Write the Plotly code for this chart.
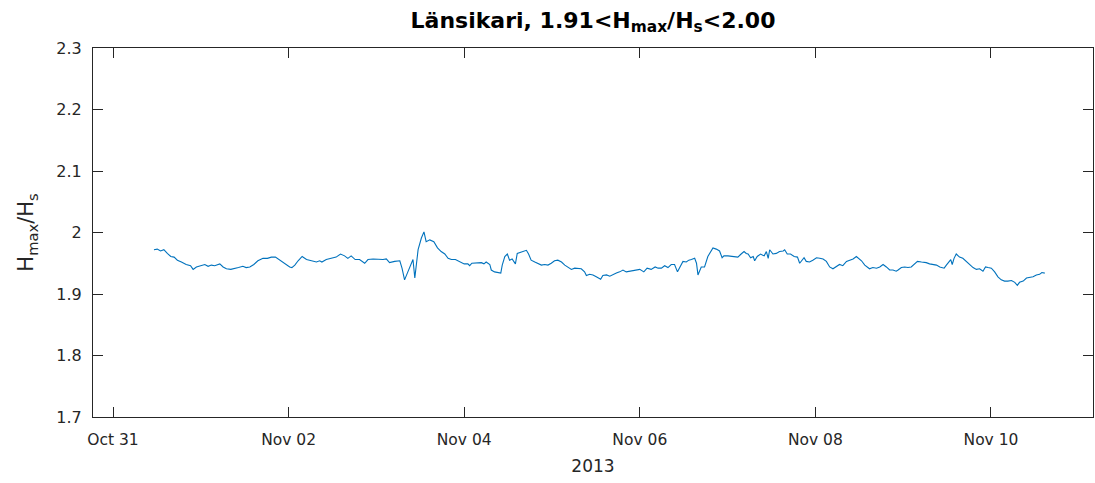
import pandas as pd
import plotly.graph_objects as go

# hours since 2013-10-31 00:00
hours = [
    11.2, 12.1, 13.0, 13.9, 14.85, 15.8, 16.7, 17.6, 18.7, 20.0, 21.2, 21.9, 22.8, 24.0, 25.1,
    26.0, 26.9, 27.8, 29.2, 30.1, 31.0, 32.2, 33.3, 34.3, 35.5, 36.4, 37.4, 38.5, 39.6, 41.0,
    42.2, 43.3, 44.4, 45.3, 46.5, 47.4, 48.3, 48.9, 49.7, 50.6,
    51.7, 52.9, 54.2, 55.6, 56.5, 57.1, 58.3, 59.7, 61.0, 62.2, 63.3, 64.2, 65.1, 66.2, 67.4,
    68.8, 69.7, 71.1, 72.4, 73.8, 74.7, 75.6, 77.0, 78.4, 79.0, 79.7, 80.6, 82.0, 82.5, 83.4,
    84.3, 85.0, 85.6, 86.6, 87.7, 88.7, 89.7, 90.7, 91.6,
    92.5, 93.6, 94.8, 96.0, 97.0, 97.5, 98.1, 99.3, 100.7, 101.4, 102.0, 103.0, 103.4, 104.3, 105.2,
    106.0, 106.4, 107.1, 107.8, 108.4, 109.1, 109.6, 110.0, 110.5, 111.4, 112.3, 113.0, 113.6, 114.3, 115.3,
    116.2, 117.1, 118.0, 118.9, 119.8, 120.7, 121.6, 122.6, 123.5, 124.4, 125.3, 126.2, 127.1, 128.0, 128.9,
    129.4, 130.3, 131.2, 132.1, 132.6,
    133.3, 133.9, 134.9, 135.8, 136.7, 137.6, 138.5, 139.4, 140.3, 141.2, 142.6, 144.0, 145.1, 146.0, 147.1,
    148.2, 149.0, 149.9, 150.8, 151.7, 152.6, 153.5, 154.3, 155.2, 155.8, 156.7, 157.4, 158.1, 159.0, 159.5,
    159.9, 160.8, 161.7, 162.6, 164.0, 164.9, 165.8, 166.5, 167.0, 168.1, 169.0, 169.9, 170.8, 171.7, 172.5,
    173.1, 173.6,
    174.3, 175.0, 175.4, 176.1, 177.0, 178.0, 178.6, 179.1, 179.5, 180.4, 181.3, 182.2, 183.2, 183.6, 184.3,
    185.2, 186.2, 187.1, 187.7, 188.2, 188.9, 189.5, 190.4, 191.3, 192.3, 193.2, 194.1, 195.0, 195.9, 196.8,
    197.7, 198.6, 199.5, 200.5, 201.4, 202.3, 203.2, 203.8, 204.6, 205.5, 206.2, 206.8, 207.7, 208.7, 209.6,
    210.5, 211.4, 212.3, 213.2, 214.1, 214.6,
    215.5, 216.4, 217.3, 218.2, 219.1, 219.9, 221.0, 222.3, 223.2, 224.1, 225.1, 226.0, 227.2, 227.8, 228.4,
    229.0, 229.4, 229.9, 230.5, 231.4, 232.3, 233.3, 234.2, 235.1, 236.0, 236.9, 237.8, 238.5, 239.2, 240.1,
    241.0, 241.9, 242.8, 243.7, 244.6, 245.6, 246.5, 247.2, 247.8, 248.8, 249.7, 250.6, 251.5, 252.4, 253.3,
    253.9, 254.7,
]

ratio = [
    1.972, 1.973, 1.970, 1.972, 1.966, 1.961, 1.960, 1.955, 1.952, 1.948, 1.946, 1.940, 1.944, 1.946, 1.948,
    1.945, 1.947, 1.946, 1.949, 1.944, 1.941, 1.940, 1.941, 1.943, 1.945, 1.943, 1.944, 1.948, 1.954, 1.958,
    1.958, 1.960, 1.960, 1.956, 1.952, 1.948, 1.944, 1.943, 1.947, 1.954,
    1.961, 1.956, 1.954, 1.952, 1.954, 1.952, 1.956, 1.958, 1.960, 1.965, 1.962, 1.958, 1.962, 1.956, 1.956,
    1.950, 1.956, 1.957, 1.956, 1.956, 1.957, 1.951, 1.953, 1.954, 1.942, 1.923, 1.936, 1.956, 1.926, 1.972,
    1.991, 2.001, 1.985, 1.988, 1.985, 1.975, 1.969, 1.965, 1.958,
    1.956, 1.956, 1.952, 1.949, 1.949, 1.946, 1.950, 1.950, 1.951, 1.949, 1.952, 1.948, 1.939, 1.936, 1.935,
    1.934, 1.947, 1.961, 1.965, 1.955, 1.957, 1.953, 1.949, 1.966, 1.968, 1.970, 1.971, 1.965, 1.955, 1.952,
    1.950, 1.947, 1.948, 1.947, 1.950, 1.954, 1.955, 1.952, 1.947, 1.944, 1.940, 1.942, 1.941, 1.941, 1.936,
    1.930, 1.932, 1.931, 1.928, 1.926,
    1.924, 1.930, 1.931, 1.929, 1.932, 1.934, 1.936, 1.939, 1.936, 1.937, 1.939, 1.940, 1.936, 1.942, 1.940,
    1.944, 1.942, 1.942, 1.946, 1.943, 1.948, 1.948, 1.936, 1.947, 1.953, 1.952, 1.955, 1.956, 1.958, 1.950,
    1.931, 1.944, 1.944, 1.961, 1.975, 1.973, 1.970, 1.959, 1.962, 1.962, 1.961, 1.960, 1.960, 1.965, 1.969,
    1.966, 1.965,
    1.959, 1.961, 1.954, 1.961, 1.965, 1.962, 1.969, 1.958, 1.972, 1.965, 1.966, 1.969, 1.970, 1.972, 1.965,
    1.965, 1.961, 1.960, 1.950, 1.954, 1.959, 1.953, 1.952, 1.955, 1.959, 1.958, 1.957, 1.953, 1.944, 1.941,
    1.944, 1.948, 1.946, 1.953, 1.955, 1.957, 1.961, 1.958, 1.954, 1.947, 1.944, 1.941, 1.943, 1.942, 1.944,
    1.948, 1.944, 1.939, 1.939, 1.937, 1.939,
    1.943, 1.944, 1.943, 1.944, 1.948, 1.953, 1.952, 1.951, 1.949, 1.948, 1.947, 1.944, 1.942, 1.947, 1.952,
    1.956, 1.948, 1.958, 1.965, 1.960, 1.958, 1.953, 1.947, 1.943, 1.940, 1.941, 1.937, 1.944, 1.943, 1.942,
    1.936, 1.928, 1.923, 1.921, 1.921, 1.922, 1.919, 1.914, 1.919, 1.921, 1.926, 1.927, 1.928, 1.931, 1.932,
    1.935, 1.934,
]

x_tick_dates = ["2013-10-31", "2013-11-02", "2013-11-04", "2013-11-06", "2013-11-08", "2013-11-10"]
x_tick_labels = ["Oct 31", "Nov 02", "Nov 04", "Nov 06", "Nov 08", "Nov 10"]
y_tick_vals = [1.7, 1.8, 1.9, 2.0, 2.1, 2.2, 2.3]
y_tick_labels = ["1.7", "1.8", "1.9", "2", "2.1", "2.2", "2.3"]

times = pd.Timestamp("2013-10-31") + pd.to_timedelta(hours, unit="h")

axis_color = "#262626"
font_family = "DejaVu Sans"

fig = go.Figure()
fig.add_trace(go.Scatter(
    x=times, y=ratio, mode="lines",
    line=dict(color="#0072BD", width=1.1),
    showlegend=False, hoverinfo="x+y",
))

fig.update_layout(
    width=1095, height=483,
    margin=dict(l=93, r=2, t=48, b=66, autoexpand=False),
    paper_bgcolor="white", plot_bgcolor="white",
    font=dict(family=font_family, size=14.67, color=axis_color),
    title=dict(
        text="<b>Länsikari, 1.91<H<sub>max</sub>/H<sub>s</sub><2.00</b>",
        x=0.5, xref="paper", y=1 - 20 / 483, yref="container", yanchor="middle",
        font=dict(family=font_family, size=22, color="black"),
    ),
    xaxis=dict(
        range=["2013-10-30 18:32", "2013-11-11 03:53"],
        tickvals=x_tick_dates, ticktext=x_tick_labels,
        ticks="inside", ticklen=10, tickcolor=axis_color, tickwidth=1,
        showline=True, linecolor=axis_color, linewidth=1, mirror="ticks",
        showgrid=False, zeroline=False, automargin=False,
        ticklabelstandoff=8,
        title=dict(text="2013", standoff=12, font=dict(size=17)),
        tickfont=dict(size=15.5),
    ),
    yaxis=dict(
        range=[1.7, 2.3],
        tickvals=y_tick_vals, ticktext=y_tick_labels,
        ticks="inside", ticklen=10, tickcolor=axis_color, tickwidth=1,
        showline=True, linecolor=axis_color, linewidth=1, mirror="ticks",
        showgrid=False, zeroline=False, automargin=False,
        ticklabelstandoff=7,
        title=dict(text="H<sub>max</sub>/H<sub>s</sub>", standoff=16, font=dict(size=21)),
        tickfont=dict(size=16),
    ),
)

post_js = (
    "document.documentElement.style.margin='0';"
    "document.body.style.margin='0';"
    "document.body.style.overflow='hidden';"
    "var gd=document.getElementById('{plot_id}');"
    "Plotly.relayout(gd,{width:1095,height:483});"
)

fig.write_html("out.html", post_script=post_js, config={"displayModeBar": False})
